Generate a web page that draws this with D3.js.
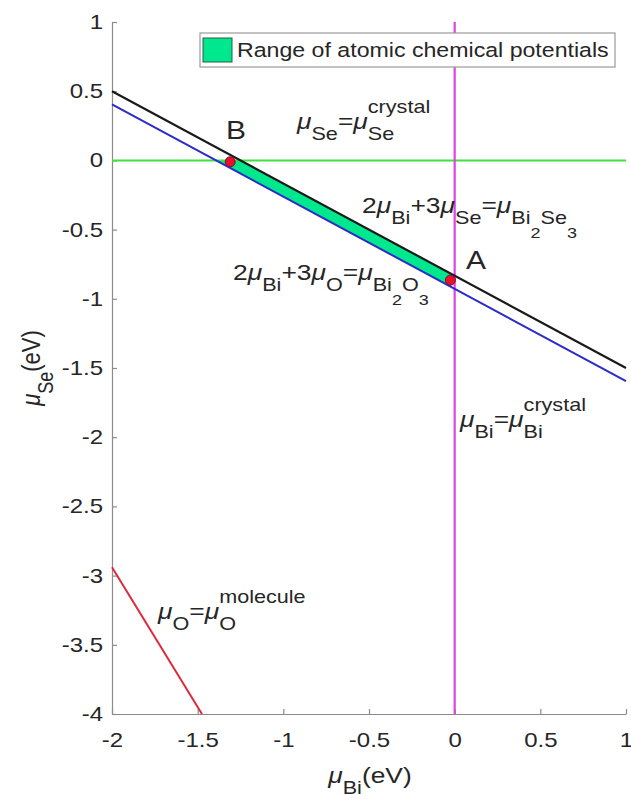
<!DOCTYPE html>
<html>
<head>
<meta charset="utf-8">
<script src="https://cdn.jsdelivr.net/npm/d3@7"></script>
<style>
  body { margin: 0; background: #fff; }
  svg { font-family: "Liberation Sans", Arial, sans-serif; }
</style>
</head>
<body>
<div id="chart"></div>
<script>
// chart values
var xTicks = [-2, -1.5, -1, -0.5, 0, 0.5, 1]
var yTicks = [-4, -3.5, -3, -2.5, -2, -1.5, -1, -0.5, 0, 0.5, 1]
var bi2se3Line = [[-2, 0.5], [1, -1.5]]          // 2muBi + 3muSe = muBi2Se3
var bi2o3Line = [[-2, 0.405], [1, -1.595]]       // 2muBi + 3muO = muBi2O3
var seCrystalLine = [[-2, 0], [1, 0]]            // muSe = muSe crystal
var biCrystalLine = [[0, 1], [0, -4]]            // muBi = muBi crystal
var oMoleculeLine = [[-2, -2.94], [-1.475, -4]]  // muO = muO molecule
var rangeArea = [[-1.25, 0], [-1.392, 0], [-0.02, -0.915], [-0.02, -0.82]]
var points = [
  { name: "A", x: -0.025, y: -0.865 },
  { name: "B", x: -1.31, y: -0.01 }
]

var width = 631, height = 799
var textCol = "#262626"
var sx = 1.2   // the source picture is stretched sideways

var svg = d3.select("#chart").append("svg")
  .attr("width", width)
  .attr("height", height)

var x = d3.scaleLinear().domain([-2, 1]).range([112, 626])
var y = d3.scaleLinear().domain([-4, 1]).range([714, 22])

var fmt = function(d) { return String(d) }

// axes (box off, ticks inward)
svg.append("g")
  .attr("transform", "translate(0," + y(-4) + ")")
  .call(d3.axisBottom(x).tickValues(xTicks).tickFormat(fmt).tickSizeInner(-5).tickSizeOuter(0).tickPadding(19))
svg.append("g")
  .attr("transform", "translate(" + x(-2) + ",0)")
  .call(d3.axisLeft(y).tickValues(yTicks).tickFormat(fmt).tickSizeInner(-5).tickSizeOuter(0).tickPadding(7.5))

svg.selectAll(".domain, .tick line").attr("stroke", "#8c8c8c").attr("stroke-width", 1.2)
svg.selectAll(".tick text")
  .attr("fill", textCol)
  .attr("transform", "scale(" + sx + ",1)")
  .style("font-size", "20px")
  .style("font-family", "Liberation Sans, Arial, sans-serif")

var line = d3.line().x(function(d) { return x(d[0]) }).y(function(d) { return y(d[1]) })

// range polygon
svg.append("path")
  .datum(rangeArea)
  .attr("d", line.curve(d3.curveLinearClosed))
  .attr("fill", "#00e88e")
  .attr("stroke", "none")
line.curve(d3.curveLinear)

var lines = [
  { d: seCrystalLine, c: "#3ee23e", w: 2 },
  { d: biCrystalLine, c: "#dd44dd", w: 2.2 },
  { d: oMoleculeLine, c: "#dd2a3a", w: 2 },
  { d: bi2o3Line, c: "#2b2bc8", w: 2 },
  { d: bi2se3Line, c: "#1a1a1a", w: 2.2 }
]
svg.selectAll(".ln").data(lines).enter().append("path")
  .attr("class", "ln")
  .attr("d", function(d) { return line(d.d) })
  .attr("fill", "none")
  .attr("stroke", function(d) { return d.c })
  .attr("stroke-width", function(d) { return d.w })

// points A, B
svg.selectAll(".pt").data(points).enter().append("circle")
  .attr("class", "pt")
  .attr("cx", function(d) { return x(d.x) })
  .attr("cy", function(d) { return y(d.y) })
  .attr("r", 5)
  .attr("fill", "#e8102c")
  .attr("stroke", "#7a1030")
  .attr("stroke-width", 1)

function plainLabel(px, py, txt, size) {
  svg.append("text")
    .attr("transform", "translate(" + px + "," + py + ") scale(" + sx + ",1)")
    .attr("text-anchor", "middle")
    .attr("fill", textCol)
    .style("font-size", size + "px")
    .text(txt)
}
plainLabel(236, 139, "B", 25)
plainLabel(476, 269, "A", 25)

// math-like labels: segments [text, level, stackOnPrev]
var lvSize = { "0": 22, "1": 18, "2": 15, "-1": 18 }
var lvOff = { "0": 0, "1": 11, "2": 25, "-1": -16 }

function mathLabel(parent, x0, y0, segs, anchor, extra) {
  var g = parent.append("g")
  var cur = 0, prevStart = 0, prevEnd = 0
  segs.forEach(function(s) {
    var lv = String(s[1])
    var tx = s[2] ? prevStart : cur
    var t = g.append("text")
      .attr("x", tx)
      .attr("y", lvOff[lv])
      .attr("fill", textCol)
      .style("font-size", lvSize[lv] + "px")
      .style("font-style", s[0] == "μ" ? "italic" : "normal")
      .text(s[0])
    var w = t.node().getComputedTextLength()
    if (s[2]) {
      cur = Math.max(prevEnd, tx + w)
    } else {
      prevStart = tx
      prevEnd = tx + w
      cur = tx + w
    }
  })
  var shift = anchor == "middle" ? -cur / 2 : 0
  g.attr("transform", (extra || "") + "translate(" + x0 + "," + y0 + ") scale(" + sx + ",1) translate(" + shift + ",0)")
  return g
}

mathLabel(svg, 297, 129, [["μ", 0], ["Se", 1], ["=", 0], ["μ", 0], ["Se", 1], ["crystal", -1, true]])
mathLabel(svg, 362, 213, [["2", 0], ["μ", 0], ["Bi", 1], ["+3", 0], ["μ", 0], ["Se", 1], ["=", 0], ["μ", 0],
  ["Bi", 1], ["2", 2], ["Se", 1], ["3", 2]])
mathLabel(svg, 233, 280, [["2", 0], ["μ", 0], ["Bi", 1], ["+3", 0], ["μ", 0], ["O", 1], ["=", 0], ["μ", 0],
  ["Bi", 1], ["2", 2], ["O", 1], ["3", 2]])
mathLabel(svg, 460, 427, [["μ", 0], ["Bi", 1], ["=", 0], ["μ", 0], ["Bi", 1], ["crystal", -1, true]])
mathLabel(svg, 158, 619, [["μ", 0], ["O", 1], ["=", 0], ["μ", 0], ["O", 1], ["molecule", -1, true]])

// axis labels
mathLabel(svg, 370, 783, [["μ", 0], ["Bi", 1], ["(eV)", 0]], "middle")
var yl = svg.append("g").attr("transform", "translate(40,368) rotate(-90)")
var ylg = yl.append("g")
mathLabel(ylg, 0, 0, [["μ", 0], ["Se", 1], ["(eV)", 0]], "middle")
// stretch the rotated label along page x, which is its own y
ylg.attr("transform", "scale(" + (1 / sx) + "," + sx + ")")

// legend
var lg = svg.append("g")
lg.append("rect").attr("x", 200).attr("y", 33).attr("width", 415).attr("height", 34)
  .attr("fill", "#fff").attr("stroke", "#9a9a9a").attr("stroke-width", 1.2)
lg.append("rect").attr("x", 203).attr("y", 38).attr("width", 29).attr("height", 24)
  .attr("fill", "#00e88e").attr("stroke", "#2a5a44").attr("stroke-width", 1)
lg.append("text")
  .attr("transform", "translate(237,57) scale(" + sx + ",1)")
  .attr("fill", textCol)
  .style("font-size", "19.3px")
  .text("Range of atomic chemical potentials")
</script>
</body>
</html>
